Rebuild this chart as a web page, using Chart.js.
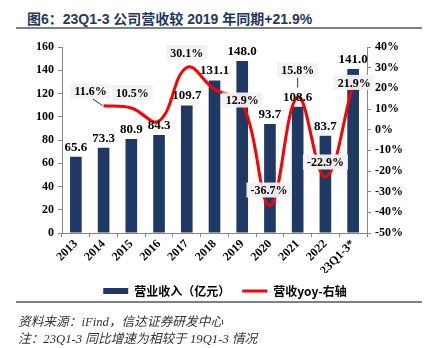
<!DOCTYPE html>
<html><head><meta charset="utf-8">
<script src="https://cdn.jsdelivr.net/npm/chart.js@4"></script>
<style>
body{margin:0;width:428px;height:348px;background:#fff;position:relative;overflow:hidden}
#c{position:absolute;left:0;top:0}
.title{position:absolute;left:27px;top:8px;font:bold 14px "Liberation Sans","Noto Sans CJK SC";color:#1F3864;white-space:nowrap}
.rule{position:absolute;left:16px;width:406px;background:#808080}
.src{position:absolute;left:18px;font:italic 12.7px "Liberation Serif","Noto Sans CJK SC";color:#333;white-space:nowrap}
</style></head>
<body>
<div class="title">图6：23Q1-3 公司营收较 2019 年同期+21.9%</div>
<div class="rule" style="top:27px;height:2px"></div>
<canvas id="c" width="428" height="348"></canvas>
<div class="rule" style="top:301px;height:1.5px"></div>
<div class="src" style="top:311px">资料来源：iFind，信达证券研发中心</div>
<div class="src" style="top:328px">注：23Q1-3 同比增速为相较于 19Q1-3 情况</div>
<script>
const categories = ['2013','2014','2015','2016','2017','2018','2019','2020','2021','2022','23Q1-3*'];
const revenue = [65.6, 73.3, 80.9, 84.3, 109.7, 131.1, 148.0, 93.7, 108.6, 83.7, 141.0];
const yoy = [null, 11.6, 10.5, 4.2, 30.1, 19.5, 12.9, -36.7, 15.8, -22.9, 21.9];
const leftTicks = [0, 20, 40, 60, 80, 100, 120, 140, 160];
const rightTicks = [-50, -40, -30, -20, -10, 0, 10, 20, 30, 40];
const shownYoyLabels = [false, true, true, false, true, false, true, true, true, true, true];

// label placement (styling, pixel offsets from the point)
const pctOffset = [null,[-13,-14.5],[1,-15.5],null,[0,-15],null,[0,-3],[-1,-15.5],[0,-27],[0,-15],[1,-2]];

const NAVY = '#1F3864';
const SERIF = '"Liberation Serif","Times New Roman",serif';

const labelPlugin = {
  id: 'valueLabels',
  afterLayout(chart) {
    const lg = chart.legend;
    if (lg && !lg._shifted) {
      const orig = lg.draw;
      lg.draw = function() {
        const c = this.ctx; c.save(); c.translate(11, 0); orig.apply(this, arguments); c.restore();
      };
      lg._shifted = true;
    }
  },
  afterDatasetsDraw(chart) {
    const ctx = chart.ctx;
    const bm = chart.getDatasetMeta(0), lm = chart.getDatasetMeta(1);
    ctx.save();
    ctx.font = 'bold 13px ' + SERIF;
    ctx.fillStyle = '#000';
    ctx.textAlign = 'center';
    ctx.textBaseline = 'bottom';
    bm.data.forEach((b, i) => ctx.fillText(revenue[i].toFixed(1), b.x, b.y - 3));
    ctx.font = 'bold 12px ' + SERIF;
    ctx.textBaseline = 'middle';
    lm.data.forEach((p, i) => {
      if (!shownYoyLabels[i] || yoy[i] === null) return;
      const off = pctOffset[i];
      const cx = p.x + off[0], cy = p.y + off[1];
      const txt = yoy[i].toFixed(1) + '%';
      const w = ctx.measureText(txt).width + 8, h = 15;
      if (i === 1) {
        ctx.strokeStyle = '#000'; ctx.lineWidth = 0.8;
        ctx.beginPath(); ctx.moveTo(cx + 2, cy + h/2); ctx.lineTo(p.x - 1, p.y); ctx.stroke();
      }
      if (i === 8) {
        ctx.strokeStyle = '#000'; ctx.lineWidth = 0.8;
        ctx.beginPath(); ctx.moveTo(cx, cy + h/2); ctx.lineTo(cx, cy + h/2 + 10); ctx.stroke();
      }
      ctx.fillStyle = 'rgba(242,242,242,0.95)';
      ctx.fillRect(cx - w/2, cy - h/2, w, h);
      ctx.fillStyle = '#000';
      ctx.fillText(txt, cx, cy + 1);
    });
    ctx.restore();
  }
};

new Chart(document.getElementById('c'), {
  data: {
    labels: categories,
    datasets: [
      { type: 'bar', label: '营业收入（亿元）', data: revenue, backgroundColor: NAVY, borderWidth: 0,
        barPercentage: 0.42, categoryPercentage: 1, yAxisID: 'y', order: 1 },
      { type: 'line', label: '营收yoy-右轴', data: yoy, borderColor: '#FF0000', backgroundColor: '#FF0000',
        borderWidth: 3, pointRadius: 0, tension: 0.4, yAxisID: 'y1', order: 0 }
    ]
  },
  options: {
    responsive: false,
    animation: false,
    layout: { padding: { top: 47, left: 0, right: 0, bottom: 41 } },
    plugins: {
      tooltip: { enabled: false },
      legend: {
        position: 'bottom',
        labels: {
          usePointStyle: true, pointStyleWidth: 25, boxHeight: 6, padding: 12,
          color: '#000', font: { family: '"Noto Sans CJK SC"', size: 12, weight: 'bold' },
          generateLabels(chart) {
            const items = Chart.defaults.plugins.legend.labels.generateLabels(chart);
            items.sort((a, b) => a.datasetIndex - b.datasetIndex);
            items.forEach(it => { it.pointStyle = it.datasetIndex === 0 ? 'rect' : 'line'; });
            return items;
          }
        }
      }
    },
    scales: {
      x: {
        offset: true,
        grid: { display: true, drawOnChartArea: false, offset: true, tickLength: 4, color: '#888' },
        border: { color: '#888' },
        ticks: { minRotation: 45, maxRotation: 45, color: '#000', font: { family: SERIF, size: 12, weight: 'bold' }, padding: 0 },
        afterFit(s) { s.height = 40; }
      },
      y: {
        position: 'left', min: 0, max: 160,
        afterBuildTicks(s) { s.ticks = leftTicks.map(v => ({ value: v })); },
        grid: { drawOnChartArea: false, tickLength: 4, color: '#888' },
        border: { color: '#888' },
        ticks: { color: '#000', font: { family: SERIF, size: 12, weight: 'bold' }, padding: 4 },
        afterFit(s) { s.width = 62; }
      },
      y1: {
        position: 'right', min: -50, max: 40,
        afterBuildTicks(s) { s.ticks = rightTicks.map(v => ({ value: v })); },
        grid: { drawOnChartArea: false, tickLength: 4, color: '#888' },
        border: { color: '#888' },
        ticks: { color: '#000', font: { family: SERIF, size: 12, weight: 'bold' }, padding: 4, callback: v => v + '%' },
        afterFit(s) { s.width = 61; }
      }
    }
  },
  plugins: [labelPlugin]
});
</script>
</body></html>
